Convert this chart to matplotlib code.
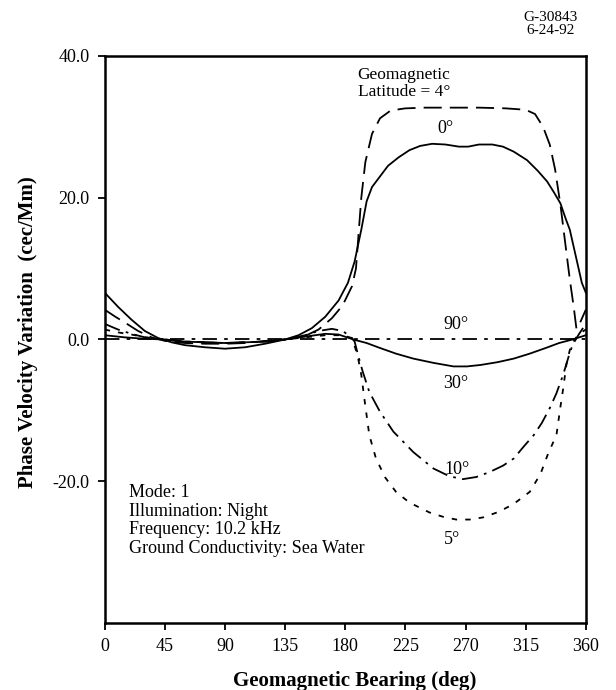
import matplotlib
matplotlib.use("Agg")
import matplotlib.pyplot as plt

plt.rcParams['font.family'] = ['Liberation Serif', 'DejaVu Serif']

# geomagnetic bearing (deg) / phase velocity variation (cec/Mm)
bear_0 = [0, 10, 20, 30, 40, 50, 60, 75, 90, 105, 120, 135, 145, 155, 165, 175, 182, 187,
          192, 196, 200, 206, 212, 220, 228, 236, 245, 255, 265, 272, 280, 290, 298, 306,
          316, 324, 331, 336, 341, 345, 348, 351, 354, 357, 360]
val_0 = [6.6, 4.6, 2.8, 1.2, 0.2, -0.4, -0.8, -1.1, -1.3, -1.1, -0.6, 0.0, 0.6, 1.6, 3.2,
         5.5, 8.0, 11.0, 15.5, 19.5, 21.5, 23.0, 24.5, 25.7, 26.7, 27.3, 27.6, 27.5, 27.2,
         27.2, 27.5, 27.5, 27.2, 26.5, 25.3, 23.8, 22.3, 20.8, 19.2, 17.0, 15.5, 13.0, 10.5,
         8.0, 6.6]

bear_4 = [0, 8, 15, 25, 35, 45, 60, 75, 90, 105, 120, 135, 150, 160, 170, 178, 185, 188,
          190, 192, 195, 200, 206, 214, 225, 240, 260, 280, 300, 315, 322, 328, 333, 337,
          341, 345, 348, 351, 353, 356, 360]
val_4 = [4.2, 3.2, 2.4, 1.2, 0.3, -0.2, -0.5, -0.6, -0.6, -0.5, -0.2, 0.0, 0.5, 1.4, 3.0,
         4.8, 7.5, 10.0, 15.0, 20.0, 25.0, 29.0, 31.2, 32.3, 32.6, 32.7, 32.7, 32.7, 32.6,
         32.4, 31.8, 30.0, 27.5, 24.0, 19.0, 13.0, 8.5, 4.5, 1.5, 2.5, 4.2]

bear_5 = [0, 10, 20, 30, 45, 60, 90, 120, 135, 150, 165, 178, 185, 188, 190, 192, 194.6,
          198, 203, 210, 218, 228, 243, 253, 263, 273, 283, 295, 306, 318, 326, 332, 338,
          341, 343, 345.5, 348, 350.5, 355, 360]
val_5 = [1.4, 1.0, 0.7, 0.3, 0.0, -0.3, -0.5, -0.3, 0.0, 0.3, 0.6, 0.6, 0.2, -1.5, -3.0,
         -5.0, -8.8, -13.5, -16.8, -19.5, -21.5, -23.0, -24.4, -25.0, -25.4, -25.4, -25.1,
         -24.3, -23.2, -21.5, -19.0, -16.0, -13.5, -9.5, -7.0, -3.5, -1.5, -0.3, 0.8, 1.4]

bear_10 = [0, 10, 20, 30, 45, 60, 90, 120, 135, 150, 160, 170, 178, 184, 187, 190, 193,
           198, 206, 216, 231, 246, 258, 268, 278, 288, 298, 306, 314, 321, 327, 333, 338,
           343, 347, 350, 355, 360]
val_10 = [2.2, 1.4, 0.8, 0.3, 0.0, -0.3, -0.5, -0.3, 0.0, 0.6, 1.2, 1.5, 1.2, 0.4, -0.3,
          -2.5, -4.5, -7.4, -10.2, -13.0, -15.9, -18.2, -19.3, -19.7, -19.4, -18.7, -17.8,
          -16.8, -15.0, -13.5, -11.8, -9.7, -7.6, -5.0, -2.5, -0.8, 0.8, 2.2]

bear_30 = [0, 15, 30, 45, 60, 90, 120, 135, 150, 165, 175, 186, 196, 206, 218, 231, 246,
           261, 271, 281, 294, 306, 318, 330, 340, 350, 355, 360]
val_30 = [0.6, 0.3, 0.1, 0.0, -0.3, -0.5, -0.3, 0.0, 0.4, 0.8, 0.7, 0.0, -0.5, -1.2, -2.0,
          -2.7, -3.3, -3.8, -3.8, -3.6, -3.2, -2.7, -2.0, -1.2, -0.5, 0.0, 0.3, 0.6]

bear_90 = [0, 90, 180, 270, 360]
val_90 = [0.0, 0.0, 0.0, 0.0, 0.0]

xticks = [0, 45, 90, 135, 180, 225, 270, 315, 360]
yticks = [40, 20, 0, -20]
ytick_labels = ["40.0", "20.0", "0.0", "-20.0"]

fig = plt.figure(figsize=(6.16, 6.9), dpi=100)
ax = fig.add_axes([0.170, 0.097, 0.781, 0.822])

lw = 1.3
ax.plot(bear_0, val_0, color='black', lw=lw, ls='-')
ax.plot(bear_30, val_30, color='black', lw=lw, ls='-')
ax.plot(bear_4, val_4, color='black', lw=lw, dashes=(10, 4.5))
ax.plot(bear_5, val_5, color='black', lw=lw, dashes=(3, 4.5))
ax.plot(bear_10, val_10, color='black', lw=lw, dashes=(9, 3.5, 1.5, 3.5))
ax.plot(bear_90, val_90, color='black', lw=lw, dashes=(8, 4, 2, 4))

ax.set_xlim(0, 360)
ax.set_ylim(-40, 40)
ax.set_xticks(xticks)
ax.set_xticklabels([str(t) for t in xticks])
ax.set_yticks(yticks)
ax.set_yticklabels(ytick_labels)
ax.tick_params(direction='out', length=5, width=1.3, labelsize=13, pad=6)
for s in ax.spines.values():
    s.set_linewidth(1.8)

ax.set_xlabel("Geomagnetic Bearing (deg)", fontsize=15, fontweight='bold', labelpad=8)
ax.xaxis.set_label_coords(0.52, -0.085)
ax.set_ylabel("Phase Velocity Variation  (cec/Mm)", fontsize=15, fontweight='bold',
              labelpad=12)
ax.yaxis.set_label_coords(-0.138, 0.513)

ax.text(224, 36.1, "Geomagnetic\nLatitude = 4°", ha='center', va='center', fontsize=12.5,
        linespacing=1.05)
ax.text(255, 29.8, "0°", ha='center', va='center', fontsize=13)
ax.text(262.7, 2.1, "90°", ha='center', va='center', fontsize=13)
ax.text(262.7, -6.2, "30°", ha='center', va='center', fontsize=13)
ax.text(264, -18.3, "10°", ha='center', va='center', fontsize=13)
ax.text(259.7, -28.2, "5°", ha='center', va='center', fontsize=13)

ax.text(18.0, -20.4, "Mode: 1\nIllumination: Night\nFrequency: 10.2 kHz\n"
        "Ground Conductivity: Sea Water", ha='left', va='top', fontsize=13,
        linespacing=1.12)

fig.text(0.893, 0.984, "G-30843\n6-24-92", ha='center', va='top', fontsize=11,
         linespacing=0.95)

fig.savefig("out.png", dpi=100)
